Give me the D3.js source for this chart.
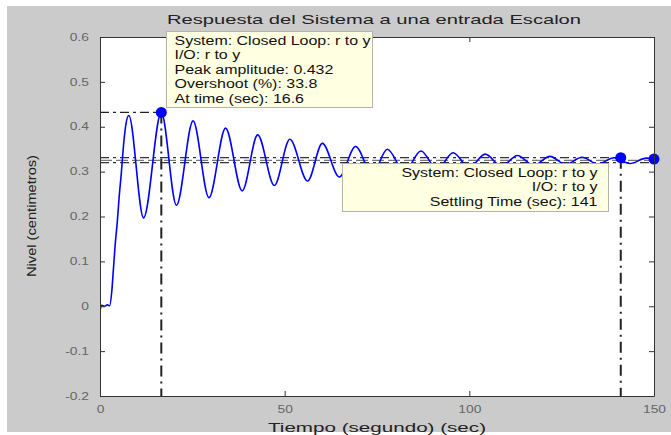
<!DOCTYPE html>
<html>
<head>
<meta charset="utf-8">
<script src="https://cdn.jsdelivr.net/npm/d3@7/dist/d3.min.js"></script>
<style>
  body { margin: 0; background: #fff; }
  text { font-family: "Liberation Sans", Arial, sans-serif; }
</style>
</head>
<body>
<div id="main"></div>
<script>
// step response (time in sec, level in cm)
const respT = [0, 0.4, 1.2, 2.0, 2.6, 3.2, 3.6, 4.1, 4.7, 5.2, 5.7, 6.5, 7.0,
    7.8, 11.8, 16.6, 20.7, 25.2, 29.5, 34.0, 38.5, 42.7, 47.2, 51.4, 56.2, 60.2, 64.8,
    69.2, 73.7, 77.8, 82.4, 86.9, 91.3, 95.6, 100.0, 104.3, 108.7, 113.0, 117.4,
    121.8, 126.1, 130.5, 134.8, 139.2, 143.5, 147.9, 150];
const respV = [-0.010, 0.002, 0.000, 0.003, 0.001, 0.034, 0.079, 0.136, 0.190, 0.245, 0.290, 0.370, 0.405,
    0.425, 0.197, 0.432, 0.225, 0.413, 0.242, 0.397, 0.257, 0.382, 0.269, 0.372, 0.279, 0.363, 0.288,
    0.356, 0.294, 0.350, 0.300, 0.346, 0.305, 0.342, 0.309, 0.339, 0.312, 0.336, 0.314,
    0.334, 0.316, 0.332, 0.317, 0.331, 0.318, 0.330, 0.328];

const xTicks = [0, 50, 100, 150];
const xTickLabels = ["0", "50", "100", "150"];
const yTicks = [-0.2, -0.1, 0, 0.1, 0.2, 0.3, 0.4, 0.5, 0.6];
const yTickLabels = ["-0.2", "-0.1", "0", "0.1", "0.2", "0.3", "0.4", "0.5", "0.6"];

const peakPoint = { t: 16.6, v: 0.432 };
const settlePoint = { t: 141, v: 0.331 };
const steadyPoint = { t: 150, v: 0.328 };
const bandLevels = [0.331, 0.325, 0.320];

const peakTip = ["System: Closed Loop: r to y", "I/O: r to y", "Peak amplitude: 0.432",
    "Overshoot (%): 33.8", "At time (sec): 16.6"];
const settleTip = ["System: Closed Loop: r to y", "I/O: r to y", "Settling Time (sec): 141"];

const ctx = {
    w: 671, h: 435,
    left: 100, right: 654, top: 37, bottom: 396,
    SX: 1.33,
    BLUE: "#0000ff",
};

// widen text like the source picture
function stretch(sel, k) {
    sel.each(function () {
        let w = this.getComputedTextLength();
        d3.select(this).attr("textLength", w * k).attr("lengthAdjust", "spacingAndGlyphs");
    });
}

let svg = d3.select("#main").append("svg").attr("width", ctx.w).attr("height", ctx.h);

svg.append("rect").attr("x", 7).attr("y", 6).attr("width", ctx.w - 7).attr("height", ctx.h - 9)
    .attr("fill", "#cbcbcb");
svg.append("rect").attr("x", ctx.left).attr("y", ctx.top)
    .attr("width", ctx.right - ctx.left).attr("height", ctx.bottom - ctx.top).attr("fill", "#fff");

let x = d3.scaleLinear().domain([0, 150]).range([ctx.left, ctx.right]);
let y = d3.scaleLinear().domain([-0.2, 0.6]).range([ctx.bottom, ctx.top]);

svg.append("clipPath").attr("id", "clip").append("rect")
    .attr("x", ctx.left).attr("y", ctx.top)
    .attr("width", ctx.right - ctx.left).attr("height", ctx.bottom - ctx.top);

// characteristic lines
let charG = svg.append("g").attr("stroke", "#222").attr("fill", "none").attr("stroke-width", 1.2);
charG.append("line")
    .attr("x1", x(0)).attr("x2", x(peakPoint.t)).attr("y1", y(peakPoint.v)).attr("y2", y(peakPoint.v))
    .attr("stroke-dasharray", "9,4,3,4");
charG.append("line")
    .attr("x1", x(peakPoint.t)).attr("x2", x(peakPoint.t)).attr("y1", y(peakPoint.v)).attr("y2", y(-0.2))
    .attr("stroke-width", 2).attr("stroke-dasharray", "11,5,2,5");
charG.append("line")
    .attr("x1", x(settlePoint.t)).attr("x2", x(settlePoint.t)).attr("y1", y(settlePoint.v)).attr("y2", y(-0.2))
    .attr("stroke-width", 2).attr("stroke-dasharray", "11,5,2,5");
charG.selectAll("line.band")
    .data(bandLevels)
    .enter()
    .append("line")
    .classed("band", true)
    .attr("x1", x(0))
    .attr("x2", (d, i) => x(i == 0 ? settlePoint.t : steadyPoint.t))
    .attr("y1", (d) => y(d))
    .attr("y2", (d) => y(d))
    .attr("stroke", (d, i) => (i == 1 ? "#777" : "#333"))
    .attr("stroke-dasharray", (d, i) => (i == 1 ? "12,4" : "9,4,3,4"));

// response curve
let line = d3.line()
    .x((d) => x(d[0]))
    .y((d) => y(d[1]))
    .curve(d3.curveMonotoneX);
svg.append("path")
    .datum(respT.map((t, i) => [t, respV[i]]))
    .attr("clip-path", "url(#clip)")
    .attr("d", line)
    .attr("fill", "none")
    .attr("stroke", ctx.BLUE)
    .attr("stroke-width", 1.6);

// markers
svg.selectAll("circle.mark")
    .data([peakPoint, settlePoint, steadyPoint])
    .enter()
    .append("circle")
    .attr("cx", (d) => x(d.t))
    .attr("cy", (d) => y(d.v))
    .attr("r", 5.5)
    .attr("fill", ctx.BLUE);

// axes with inward ticks
let axG = svg.append("g").attr("font-size", 13);
axG.append("g").attr("transform", `translate(0,${ctx.bottom})`)
    .call(d3.axisBottom(x).tickValues(xTicks).tickSizeInner(-5).tickSizeOuter(0).tickPadding(10)
        .tickFormat((d, i) => xTickLabels[i]));
axG.append("g").attr("transform", `translate(${ctx.left},0)`)
    .call(d3.axisLeft(y).tickValues(yTicks).tickSizeInner(-5).tickSizeOuter(0).tickPadding(11)
        .tickFormat((d, i) => yTickLabels[i]));
axG.append("g").attr("transform", `translate(0,${ctx.top})`)
    .call(d3.axisTop(x).tickValues(xTicks).tickSizeInner(-5).tickSizeOuter(0).tickFormat(""));
axG.append("g").attr("transform", `translate(${ctx.right},0)`)
    .call(d3.axisRight(y).tickValues(yTicks).tickSizeInner(-5).tickSizeOuter(0).tickFormat(""));
axG.selectAll("path.domain").attr("stroke", "#333");
axG.selectAll(".tick line").attr("stroke", "#333");
axG.selectAll(".tick text").attr("fill", "#666").attr("font-family", "Liberation Sans, Arial, sans-serif")
    .call(stretch, 1.38);

// titles
svg.append("text")
    .attr("x", 374).attr("y", 24)
    .attr("text-anchor", "middle").attr("font-size", 13).attr("fill", "#222")
    .text("Respuesta del Sistema a una entrada Escalon")
    .attr("textLength", 414).attr("lengthAdjust", "spacingAndGlyphs");
svg.append("text")
    .attr("x", 377).attr("y", 432)
    .attr("text-anchor", "middle").attr("font-size", 12).attr("fill", "#222")
    .text("Tiempo (segundo) (sec)")
    .attr("textLength", 218).attr("lengthAdjust", "spacingAndGlyphs");
svg.append("text")
    .attr("transform", "translate(36,216) rotate(-90)")
    .attr("text-anchor", "middle").attr("font-size", 12).attr("fill", "#222")
    .text("Nivel (centimetros)")
    .attr("textLength", 122).attr("lengthAdjust", "spacingAndGlyphs");

// data tips
function dataTip(lines, box, anchor) {
    let g = svg.append("g");
    g.append("rect")
        .attr("x", box[0]).attr("y", box[1]).attr("width", box[2]).attr("height", box[3])
        .attr("fill", "#ffffe1").attr("stroke", "#b4b4a8");
    let tx = anchor == "end" ? box[0] + box[2] - 11 : box[0] + 8;
    g.selectAll("text")
        .data(lines)
        .enter()
        .append("text")
        .attr("x", tx)
        .attr("y", (d, i) => box[1] + 13 + i * 14.6)
        .attr("text-anchor", anchor)
        .attr("font-size", 12)
        .attr("fill", "#111")
        .text((d) => d)
        .call(stretch, ctx.SX);
}
dataTip(peakTip, [166.5, 31.5, 206, 76], "start");
dataTip(settleTip, [342.5, 163.5, 266, 48], "end");
</script>
</body>
</html>
